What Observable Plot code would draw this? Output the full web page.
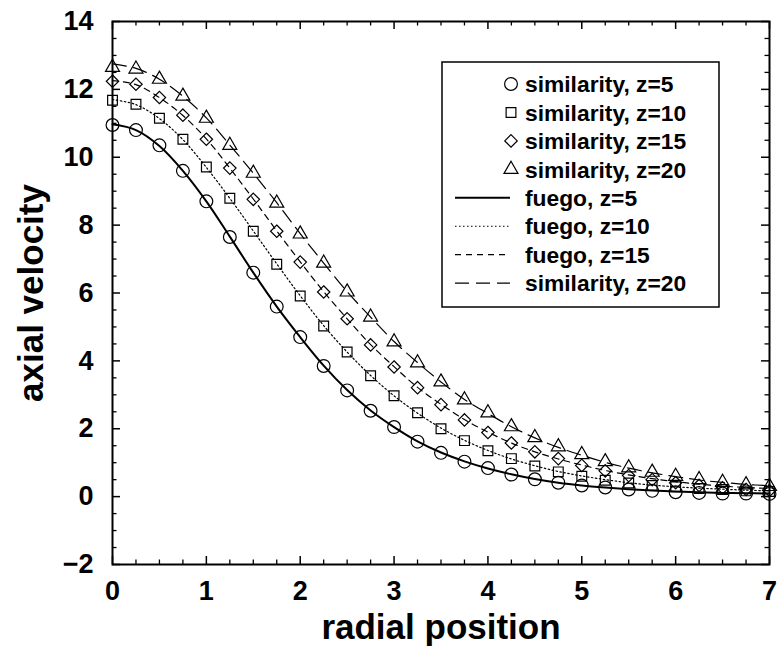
<!DOCTYPE html>
<html>
<head>
<meta charset="utf-8">
<script src="https://cdn.jsdelivr.net/npm/d3@7"></script>
<script src="https://cdn.jsdelivr.net/npm/@observablehq/plot@0.6"></script>
<style>
  html, body { margin: 0; padding: 0; background: #fff; }
  #chart svg { display: block; }
</style>
</head>
<body>
<div id="chart"></div>
<script>
// ---- data ----
const radial = [0, 0.25, 0.5, 0.75, 1, 1.25, 1.5, 1.75, 2, 2.25, 2.5, 2.75, 3, 3.25, 3.5, 3.75,
                4, 4.25, 4.5, 4.75, 5, 5.25, 5.5, 5.75, 6, 6.25, 6.5, 6.75, 7];

const sim5  = [10.95, 10.8, 10.35, 9.6, 8.7, 7.65, 6.6, 5.6, 4.7, 3.85, 3.13, 2.53, 2.05, 1.62, 1.29, 1.03,
               0.84, 0.65, 0.51, 0.41, 0.33, 0.27, 0.21, 0.17, 0.13, 0.11, 0.09, 0.09, 0.08];
const sim10 = [11.68, 11.56, 11.15, 10.53, 9.71, 8.79, 7.82, 6.85, 5.91, 5.03, 4.26, 3.56, 2.97, 2.47, 2.0, 1.65,
               1.35, 1.12, 0.9, 0.73, 0.6, 0.48, 0.4, 0.33, 0.29, 0.24, 0.21, 0.17, 0.15];
const sim15 = [12.24, 12.15, 11.76, 11.24, 10.53, 9.68, 8.76, 7.82, 6.91, 6.03, 5.24, 4.47, 3.82, 3.21, 2.71, 2.26,
               1.89, 1.58, 1.32, 1.12, 0.92, 0.76, 0.62, 0.5, 0.41, 0.33, 0.26, 0.21, 0.18];
const sim20 = [12.65, 12.6, 12.3, 11.8, 11.15, 10.35, 9.53, 8.65, 7.74, 6.88, 6.03, 5.29, 4.56, 3.94, 3.38, 2.85,
               2.47, 2.06, 1.74, 1.47, 1.24, 1.03, 0.85, 0.72, 0.6, 0.5, 0.42, 0.35, 0.3];

const fuego5  = [10.97, 10.8, 10.33, 9.6, 8.7, 7.66, 6.6, 5.6, 4.7, 3.86, 3.14, 2.54, 2.05, 1.63, 1.3, 1.04,
                 0.83, 0.66, 0.52, 0.41, 0.33, 0.27, 0.22, 0.18, 0.15, 0.13, 0.11, 0.1, 0.09];
const fuego10 = [11.7, 11.55, 11.14, 10.52, 9.7, 8.79, 7.83, 6.86, 5.92, 5.04, 4.26, 3.57, 2.97, 2.46, 2.02, 1.66,
                 1.36, 1.11, 0.91, 0.74, 0.61, 0.5, 0.41, 0.34, 0.29, 0.25, 0.22, 0.19, 0.17];
const fuego15 = [12.26, 12.14, 11.76, 11.23, 10.54, 9.68, 8.77, 7.83, 6.92, 6.04, 5.24, 4.48, 3.83, 3.22, 2.72, 2.27,
                 1.9, 1.58, 1.32, 1.11, 0.93, 0.77, 0.64, 0.53, 0.44, 0.37, 0.31, 0.27, 0.24];
const fuego20 = [12.75, 12.62, 12.3, 11.8, 11.16, 10.36, 9.53, 8.66, 7.75, 6.88, 6.04, 5.29, 4.57, 3.95, 3.38, 2.86,
                 2.45, 2.06, 1.73, 1.45, 1.22, 1.01, 0.84, 0.7, 0.59, 0.49, 0.42, 0.36, 0.32];

const xMajor = [0, 1, 2, 3, 4, 5, 6, 7];
const xMinor = [0.25, 0.5, 0.75, 1.25, 1.5, 1.75, 2.25, 2.5, 2.75, 3.25, 3.5, 3.75, 4.25, 4.5, 4.75,
                5.25, 5.5, 5.75, 6.25, 6.5, 6.75];
const yMajor = [-2, 0, 2, 4, 6, 8, 10, 12, 14];
const yMinor = [-1.5, -1, -0.5, 0.5, 1, 1.5, 2.5, 3, 3.5, 4.5, 5, 5.5, 6.5, 7, 7.5, 8.5, 9, 9.5,
                10.5, 11, 11.5, 12.5, 13, 13.5];

const xTitle = "radial position";
const yTitle = "axial velocity";

const legendLabels = ["similarity, z=5", "similarity, z=10", "similarity, z=15", "similarity, z=20",
                      "fuego, z=5", "fuego, z=10", "fuego, z=15", "similarity, z=20"];

// ---- styles ----
const simSeries = [
  {vals: sim5,  symbol: "circle",   r: 6.4},
  {vals: sim10, symbol: "square",   r: 5.5},
  {vals: sim15, symbol: "diamond2", r: 5.6},
  {vals: sim20, symbol: "triangle", r: 5.2}
];
const fuegoSeries = [
  {vals: fuego5,  dash: null,      width: 2},
  {vals: fuego10, dash: "1.5,2.5", width: 1.2},
  {vals: fuego15, dash: "6,5",     width: 1.2},
  {vals: fuego20, dash: "14,7",    width: 1.2}
];

const rows = vals => radial.map((r, i) => ({r, v: vals[i]}));

const W = 778, H = 650, mL = 112, mR = 9, mT = 21, mB = 86;
const innerW = W - mL - mR, innerH = H - mT - mB;
const font = "'Liberation Sans', Arial, Helvetica, sans-serif";

const marks = [];
// ticks (inward, all four sides)
marks.push(Plot.tickX(xMajor, {x: d => d, insetTop: innerH - 8, strokeWidth: 1.5}));
marks.push(Plot.tickX(xMajor, {x: d => d, insetBottom: innerH - 8, strokeWidth: 1.5}));
marks.push(Plot.tickX(xMinor, {x: d => d, insetTop: innerH - 4.5, strokeWidth: 1.3}));
marks.push(Plot.tickX(xMinor, {x: d => d, insetBottom: innerH - 4.5, strokeWidth: 1.3}));
marks.push(Plot.tickY(yMajor, {y: d => d, insetRight: innerW - 8, strokeWidth: 1.5}));
marks.push(Plot.tickY(yMajor, {y: d => d, insetLeft: innerW - 8, strokeWidth: 1.5}));
marks.push(Plot.tickY(yMinor, {y: d => d, insetRight: innerW - 4.5, strokeWidth: 1.3}));
marks.push(Plot.tickY(yMinor, {y: d => d, insetLeft: innerW - 4.5, strokeWidth: 1.3}));

// fuego lines
for (const s of fuegoSeries) {
  marks.push(Plot.line(rows(s.vals), {
    x: "r", y: "v", curve: "catmull-rom", stroke: "black",
    strokeWidth: s.width, strokeDasharray: s.dash
  }));
}
// similarity markers
for (const s of simSeries) {
  marks.push(Plot.dot(rows(s.vals), {
    x: "r", y: "v", symbol: () => s.symbol, r: s.r, stroke: "black", fill: "none", strokeWidth: 1.2
  }));
}

marks.push(Plot.frame({stroke: "black", strokeWidth: 2}));

marks.push(Plot.axisX({ticks: xMajor, tickSize: 0, tickPadding: 16, fontSize: 27, label: null, tickFormat: d3.format("d")}));
marks.push(Plot.axisY({ticks: yMajor, tickSize: 0, tickPadding: 19, fontSize: 27, label: null, tickFormat: d3.format("d")}));

marks.push(Plot.text([xTitle], {text: d => d, frameAnchor: "bottom", lineAnchor: "middle", textAnchor: "middle",
                                dy: 63, fontSize: 35}));
marks.push(Plot.text([yTitle], {text: d => d, frameAnchor: "left", lineAnchor: "middle", textAnchor: "middle",
                                rotate: -90, dx: -81, fontSize: 35}));

const chart = Plot.plot({
  width: W, height: H,
  marginLeft: mL, marginRight: mR, marginTop: mT, marginBottom: mB,
  x: {domain: [0, 7]},
  y: {domain: [-2, 14]},
  style: {fontFamily: font, fontWeight: "bold", background: "white", color: "black", overflow: "visible"},
  marks
});

// ---- legend box inside the plot ----
const svg = d3.select(chart);
const lg = svg.append("g").attr("font-family", font).attr("font-weight", "bold").attr("text-anchor", "start");
const box = {x: 442, y: 62, w: 277, h: 245};
lg.append("rect").attr("x", box.x).attr("y", box.y).attr("width", box.w).attr("height", box.h)
  .attr("fill", "white").attr("stroke", "black").attr("stroke-width", 1.5);
const row0 = 84, rowStep = 28.45, markX = 511, textX = 525, lineX1 = 455, lineX2 = 510;
const d3sym = {circle: d3.symbolCircle, square: d3.symbolSquare, diamond2: d3.symbolDiamond2, triangle: d3.symbolTriangle};
legendLabels.forEach((label, i) => {
  const y = row0 + i * rowStep;
  if (i < 4) {
    const s = simSeries[i];
    lg.append("path").attr("transform", `translate(${markX},${y})`)
      .attr("d", d3.symbol(d3sym[s.symbol], Math.PI * s.r * s.r)())
      .attr("fill", "none").attr("stroke", "black").attr("stroke-width", 1.2);
  } else {
    const s = fuegoSeries[i - 4];
    lg.append("line").attr("x1", lineX1).attr("x2", lineX2).attr("y1", y).attr("y2", y)
      .attr("stroke", "black").attr("stroke-width", s.width)
      .attr("stroke-dasharray", s.dash);
  }
  lg.append("text").attr("x", textX).attr("y", y).attr("dy", "0.36em")
    .attr("text-anchor", "start")
    .attr("font-size", 22.8).attr("fill", "black").text(label);
});

document.getElementById("chart").appendChild(chart);
</script>
</body>
</html>
